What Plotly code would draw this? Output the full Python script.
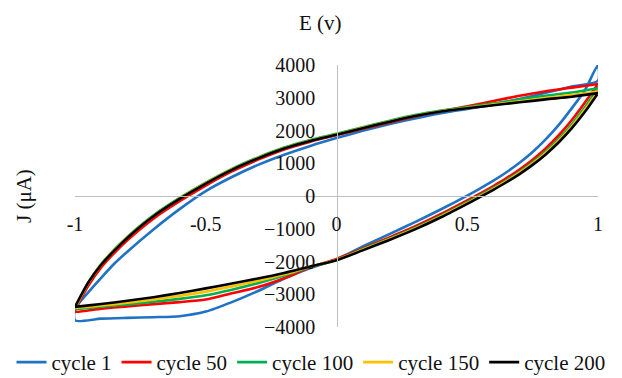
import plotly.graph_objects as go

# Potential grids (V)
E_fwd = [-1.0, -0.95, -0.9, -0.85, -0.8, -0.7, -0.6, -0.5, -0.4, -0.3, -0.2, -0.1,
         0.0, 0.1, 0.2, 0.3, 0.4, 0.5, 0.6, 0.7, 0.8, 0.9, 1.0]
E_rev = [1.0, 0.95, 0.9, 0.85, 0.8, 0.75, 0.7, 0.65, 0.6, 0.55, 0.5, 0.4, 0.3, 0.2,
         0.1, 0.0, -0.1, -0.2, -0.3, -0.4, -0.5, -0.6, -0.7, -0.8, -0.9, -1.0]

# Current density (uA) - forward (upper) branches
J1_fwd = [-3450, -2950, -2500, -2070, -1700, -1020, -400, 150, 580, 950, 1260, 1530,
          1770, 1990, 2190, 2370, 2530, 2660, 2790, 2960, 3150, 3340, 3520]
J50_fwd = [-3500, -2750, -2180, -1740, -1350, -690, -160, 320, 750, 1110, 1420, 1660,
           1860, 2050, 2240, 2430, 2590, 2740, 2900, 3060, 3200, 3310, 3420]
J100_fwd = [-3456, -2660, -2080, -1640, -1250, -590, -60, 410, 830, 1180, 1480, 1710,
            1900, 2100, 2290, 2470, 2610, 2720, 2820, 2950, 3060, 3160, 3290]
J150_fwd = [-3420, -2660, -2095, -1660, -1270, -610, -80, 390, 810, 1160, 1460, 1690,
            1880, 2080, 2270, 2450, 2590, 2690, 2790, 2890, 2990, 3080, 3190]
J200_fwd = [-3385, -2650, -2100, -1670, -1280, -620, -90, 380, 800, 1150, 1450, 1680,
            1870, 2070, 2260, 2440, 2580, 2680, 2770, 2860, 2950, 3030, 3140]

# Reverse (lower) branches
J1_rev = [4000, 3230, 2684, 2170, 1726, 1344, 1014, 726, 470, 236, 14, -404, -798, -1170,
          -1540, -1930, -2200, -2520, -2900, -3240, -3530, -3670, -3700, -3720, -3745, -3800]
J50_rev = [3420, 2855, 2320, 1855, 1455, 1110, 810, 545, 305, 80, -135, -550, -930, -1270,
           -1600, -1920, -2180, -2510, -2780, -2970, -3160, -3240, -3300, -3370, -3440, -3537]
J100_rev = [3290, 2707, 2190, 1743, 1359, 1027, 737, 480, 245, 23, -190, -601, -976, -1310,
            -1625, -1950, -2170, -2430, -2660, -2860, -3030, -3140, -3230, -3310, -3380, -3456]
J150_rev = [3190, 2638, 2130, 1692, 1314, 988, 704, 450, 218, -4, -215, -625, -998, -1330,
            -1642, -1955, -2160, -2390, -2590, -2760, -2920, -3050, -3160, -3260, -3340, -3420]
J200_rev = [3140, 2570, 2070, 1640, 1270, 950, 670, 420, 190, -30, -240, -650, -1020, -1350,
            -1660, -1960, -2150, -2350, -2520, -2670, -2820, -2960, -3090, -3200, -3300, -3385]

series_names = ["cycle 1", "cycle 50", "cycle 100", "cycle 150", "cycle 200"]
series_colors = ["#1F72C4", "#FF0000", "#00B050", "#FFC000", "#000000"]
fwd_list = [J1_fwd, J50_fwd, J100_fwd, J150_fwd, J200_fwd]
rev_list = [J1_rev, J50_rev, J100_rev, J150_rev, J200_rev]

x_ticks = [-1, -0.5, 0, 0.5, 1]
x_ticktext = ["-1", "-0.5", "0", "0.5", "1"]
y_ticks = [-4000, -3000, -2000, -1000, 0, 1000, 2000, 3000, 4000]

FONT = "Liberation Serif"
TXT = "#111111"
W, H = 622, 378

fig = go.Figure()
for name, color, jf, jr in zip(series_names, series_colors, fwd_list, rev_list):
    xs = E_fwd + E_rev + [E_fwd[0]]
    ys = jf + jr + [jf[0]]
    fig.add_trace(go.Scatter(
        x=xs, y=ys, mode="lines", name=name,
        line=dict(color=color, width=2.6, shape="spline", smoothing=0.7),
    ))

x_dom = [75 / W, 598 / W]
fig.update_layout(
    width=W, height=H,
    margin=dict(l=0, r=0, t=65, b=51, autoexpand=False),
    paper_bgcolor="white", plot_bgcolor="white",
    font=dict(family=FONT, size=20, color=TXT),
    showlegend=True,
    legend=dict(orientation="h", x=0.5, xanchor="center", y=(327 - 362.5) / 262,
                yanchor="middle",
                font=dict(family=FONT, size=21, color=TXT), itemwidth=30,
                tracegroupgap=0, bgcolor="rgba(0,0,0,0)", borderwidth=0),
    xaxis=dict(range=[-1, 1], domain=x_dom, anchor="free", position=0.5, showgrid=False,
               zeroline=False, showline=True, linecolor="#BFBFBF", linewidth=1.3,
               tickvals=x_ticks, ticktext=x_ticktext, ticks="", ticklabelstandoff=10,
               tickfont=dict(family=FONT, size=20, color=TXT)),
    yaxis=dict(range=[-4000, 4000], anchor="free", position=(x_dom[0] + x_dom[1]) / 2,
               showgrid=False, zeroline=False, showline=True, linecolor="#BFBFBF",
               linewidth=1.3, tickvals=y_ticks, ticks="", ticklabelstandoff=17,
               tickfont=dict(family=FONT, size=20, color=TXT)),
    annotations=[
        dict(text="E (v)", xref="paper", yref="paper", x=321 / W, y=1.16,
             xanchor="center", yanchor="middle",
             showarrow=False, font=dict(family=FONT, size=21, color=TXT)),
        dict(text="J (μA)", xref="paper", yref="paper", x=24 / W, y=0.5,
             xanchor="center", yanchor="middle",
             textangle=-90, showarrow=False, font=dict(family=FONT, size=21, color=TXT)),
    ],
)

fig.write_html("out.html")
